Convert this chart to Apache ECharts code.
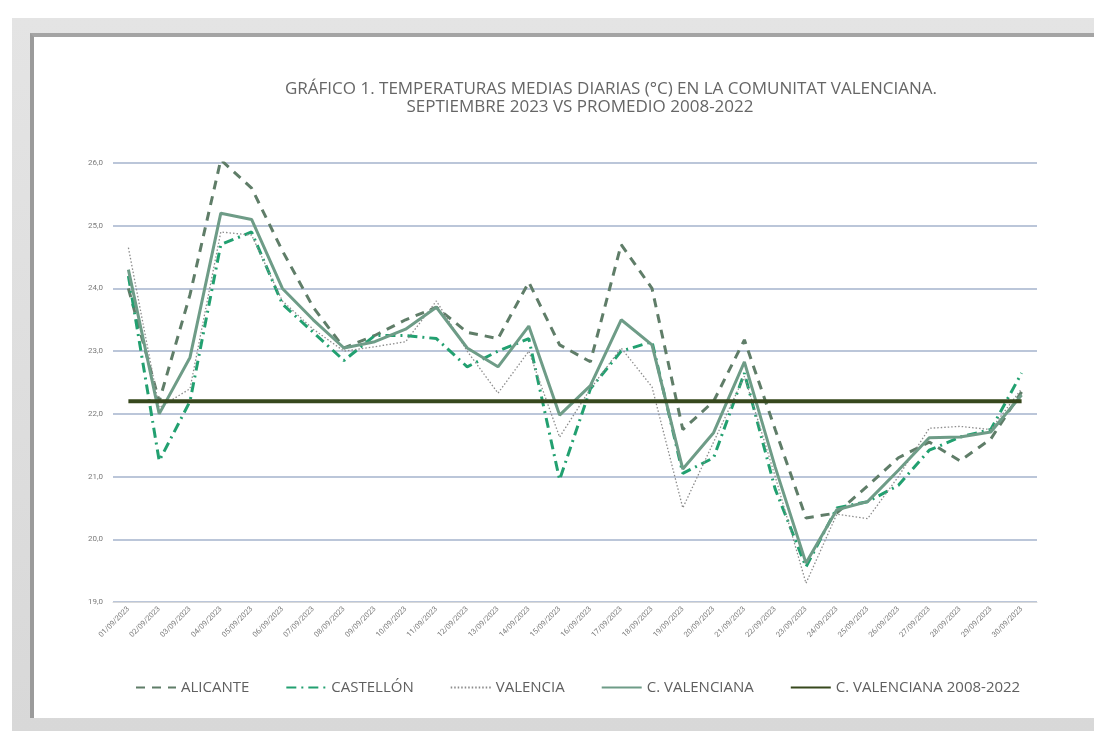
<!DOCTYPE html>
<html>
<head>
<meta charset="utf-8">
<script src="https://cdn.jsdelivr.net/npm/echarts@6/dist/echarts.min.js"></script>
<style>
  html, body { margin: 0; padding: 0; background: #ffffff; }
  #frame { position: absolute; left: 12px; top: 18px; width: 1082px; height: 713px;
           background: linear-gradient(#e4e4e4, #d8d8d8); }
  #card { position: absolute; left: 30px; top: 33px; width: 1064px; height: 685px; background: #fff;
          border-left: 4px solid #9b9b9b; border-top: 4px solid #a4a4a4; box-sizing: border-box; }
  #main { position: absolute; left: 0; top: 0; width: 1094px; height: 731px; }
</style>
</head>
<body>
<div id="frame"></div>
<div id="card"></div>
<div id="main"></div>
<script>
// fechas de septiembre 2023
const fechas = ['01/09/2023','02/09/2023','03/09/2023','04/09/2023','05/09/2023','06/09/2023','07/09/2023','08/09/2023','09/09/2023','10/09/2023',
  '11/09/2023','12/09/2023','13/09/2023','14/09/2023','15/09/2023','16/09/2023','17/09/2023','18/09/2023','19/09/2023','20/09/2023',
  '21/09/2023','22/09/2023','23/09/2023','24/09/2023','25/09/2023','26/09/2023','27/09/2023','28/09/2023','29/09/2023','30/09/2023'];

const alicante = [24.0, 22.2, 23.9, 26.05, 25.6, 24.6, 23.7, 23.05, 23.25, 23.5, 23.7, 23.3, 23.2, 24.1, 23.1, 22.83, 24.7, 24.0, 21.75, 22.2,
  23.18, 21.75, 20.34, 20.42, 20.85, 21.3, 21.55, 21.25, 21.6, 22.35];
const castellon = [24.2, 21.25, 22.2, 24.7, 24.9, 23.75, 23.3, 22.85, 23.25, 23.25, 23.2, 22.75, 23.0, 23.2, 20.95, 22.4, 23.0, 23.15, 21.05, 21.3,
  22.65, 20.8, 19.56, 20.5, 20.6, 20.86, 21.42, 21.63, 21.75, 22.65];
const valencia = [24.65, 22.1, 22.4, 24.9, 24.85, 23.8, 23.35, 23.0, 23.07, 23.15, 23.8, 23.0, 22.33, 23.0, 21.63, 22.4, 23.05, 22.43, 20.5, 21.55,
  22.6, 21.0, 19.3, 20.4, 20.33, 21.0, 21.77, 21.8, 21.75, 22.4];
const cValenciana = [24.3, 22.0, 22.9, 25.2, 25.1, 24.0, 23.5, 23.05, 23.15, 23.35, 23.7, 23.05, 22.75, 23.4, 21.98, 22.45, 23.5, 23.1, 21.12, 21.7,
  22.83, 21.15, 19.62, 20.47, 20.6, 21.1, 21.62, 21.63, 21.71, 22.3];
const promedio = fechas.map(() => 22.2); // promedio 2008-2022

const nombres = ['ALICANTE', 'CASTELLÓN', 'VALENCIA', 'C. VALENCIANA', 'C. VALENCIANA 2008-2022'];

let myChart = echarts.init(document.getElementById('main'));

const linea = (name, data, color, width, type, z) => ({
  name: name, type: 'line', data: data, symbol: 'none', z: z,
  lineStyle: { color: color, width: width, type: type },
  itemStyle: { color: color }
});

myChart.setOption({
  animation: false,
  textStyle: { fontFamily: 'Open Sans' },
  title: [
    { text: 'GRÁFICO 1. TEMPERATURAS MEDIAS DIARIAS (°C) EN LA COMUNITAT VALENCIANA.', left: 606, top: 76, textAlign: 'center',
      textStyle: { fontSize: 17, fontWeight: 'normal', color: '#666666' } },
    { text: 'SEPTIEMBRE 2023 VS PROMEDIO 2008-2022', left: 575, top: 94, textAlign: 'center',
      textStyle: { fontSize: 17, fontWeight: 'normal', color: '#666666' } }
  ],
  legend: {
    data: nombres, left: 130, top: 675, itemWidth: 40, itemHeight: 10, itemGap: 36,
    itemStyle: { opacity: 0 },
    textStyle: { fontSize: 15, color: '#5f5f5f' }
  },
  grid: { left: 113, right: 57, top: 163, bottom: 129 },
  xAxis: {
    type: 'category', data: fechas, boundaryGap: true,
    axisLine: { show: true, lineStyle: { color: '#d9d9d9', width: 1 } },
    axisTick: { show: false },
    axisLabel: { rotate: 45, fontSize: 7.5, color: '#7a7a7a', interval: 0, margin: 6, fontFamily: 'Roboto' }
  },
  yAxis: {
    type: 'value', min: 19, max: 26, interval: 1,
    axisLine: { show: false }, axisTick: { show: false },
    axisLabel: { fontSize: 8, color: '#7a7a7a', margin: 10, fontFamily: 'Roboto', formatter: v => v.toFixed(1).replace('.', ',') },
    splitLine: { lineStyle: { color: '#a5b3cd', width: 1.5 } }
  },
  series: [
    linea(nombres[0], alicante, '#5f7d68', 3, [9, 7], 3),
    linea(nombres[1], castellon, '#22a070', 3, [10, 5, 2, 5], 4),
    linea(nombres[2], valencia, '#8c8c8c', 1.3, [1.5, 2], 5),
    linea(nombres[3], cValenciana, '#6e9c87', 3, 'solid', 6),
    linea(nombres[4], promedio, '#37481d', 4, 'solid', 7)
  ]
});
</script>
</body>
</html>
